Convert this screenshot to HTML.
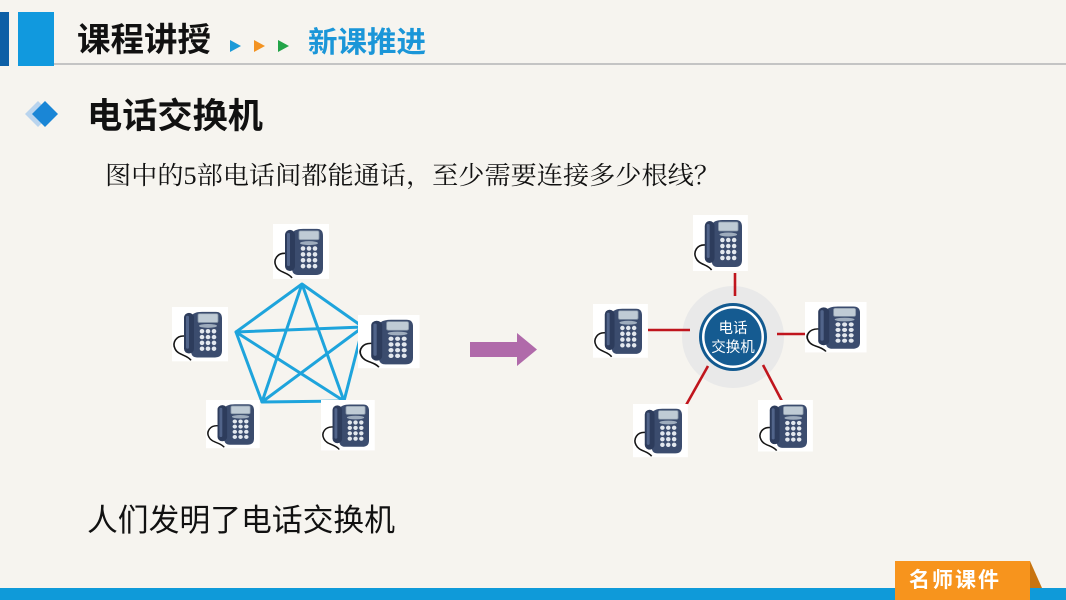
<!DOCTYPE html>
<html><head><meta charset="utf-8"><style>
html,body{margin:0;padding:0;}
body{width:1066px;height:600px;overflow:hidden;background:#f6f4ef;}
svg{display:block;}
.cjk{font-family:"Liberation Sans","Noto Sans CJK SC",sans-serif;}
</style></head><body>
<svg width="1066" height="600" viewBox="0 0 1066 600" xmlns="http://www.w3.org/2000/svg">
<defs>
<g id="ph">
<rect x="0" y="0" width="56" height="56" fill="#ffffff"/>
<path d="M13 30 C4 29,0 37,3 43 C6 50,15 49,19 55" fill="none" stroke="#151515" stroke-width="1.6"/>
<path d="M19 10 Q21 5 30 5 L44 5 Q50 5 50 12 L50 45 Q50 52 43 52 L25 52 Q19 52 19 45 Z" fill="#3b4c6e"/>
<rect x="12" y="6" width="10" height="42" rx="5" fill="#2d3c5c"/>
<rect x="14" y="9" width="3" height="34" rx="1.5" fill="#51648a"/>
<rect x="26" y="7" width="20" height="9" rx="1.5" fill="#bfcbd5" stroke="#8796a8" stroke-width="0.8"/>
<ellipse cx="36" cy="19.5" rx="9" ry="2" fill="#9eacbd"/>
<g fill="#e3e8ee">
<circle cx="30" cy="25" r="2.3"/><circle cx="36" cy="25" r="2.3"/><circle cx="42" cy="25" r="2.3"/>
<circle cx="30" cy="31" r="2.3"/><circle cx="36" cy="31" r="2.3"/><circle cx="42" cy="31" r="2.3"/>
<circle cx="30" cy="37" r="2.3"/><circle cx="36" cy="37" r="2.3"/><circle cx="42" cy="37" r="2.3"/>
<circle cx="30" cy="43" r="2.3"/><circle cx="36" cy="43" r="2.3"/><circle cx="42" cy="43" r="2.3"/>
</g>
</g>
</defs>

<!-- header -->
<rect x="0" y="12" width="9" height="54" fill="#0d5fa6"/>
<rect x="18" y="12" width="36" height="54" fill="#1199de"/>
<rect x="54" y="63" width="1012" height="2" fill="#c4c4c4"/>
<text x="77" y="51" class="cjk" font-size="33" font-weight="bold" fill="#111" textLength="134" lengthAdjust="spacingAndGlyphs">课程讲授</text>
<polygon points="230,40 241,46 230,52" fill="#1b9ad8"/>
<polygon points="254,40 265,46 254,52" fill="#f39322"/>
<polygon points="278,40 289,46 278,52" fill="#23a448"/>
<text x="308" y="52" class="cjk" font-size="29" font-weight="bold" fill="#1a96d8" textLength="118" lengthAdjust="spacingAndGlyphs">新课推进</text>

<!-- section title -->
<polygon points="38,101 51,114 38,127 25,114" fill="#b9d4ee"/>
<polygon points="45,101 58,114 45,127 32,114" fill="#1a86d6"/>
<text x="87" y="128" class="cjk" font-size="35" font-weight="bold" fill="#111" textLength="176" lengthAdjust="spacingAndGlyphs">电话交换机</text>

<text x="105" y="184" font-family="'Noto Serif CJK SC','Liberation Serif',serif" font-size="25" fill="#111" textLength="615" lengthAdjust="spacingAndGlyphs">图中的<tspan font-family="'Liberation Serif',serif">5</tspan>部电话间都能通话，至少需要连接多少根线？</text>

<!-- left pentagon -->
<g stroke="#1ea4dc" stroke-width="3" fill="none" stroke-linejoin="round">
<polygon points="302,284 363,327 344,401 262,402 236,332"/>
<polyline points="302,284 262,402 363,327 236,332 344,401 302,284"/>
</g>
<use href="#ph" transform="translate(273,224) scale(1.0,0.98)"/>
<use href="#ph" transform="translate(172,307) scale(1.0,0.97)"/>
<use href="#ph" transform="translate(358,315) scale(1.1,0.95)"/>
<use href="#ph" transform="translate(206,400) scale(0.96,0.86)"/>
<use href="#ph" transform="translate(321,400) scale(0.96,0.9)"/>

<!-- arrow -->
<polygon points="470,342 517,342 517,333 537,349.5 517,366 517,357 470,357" fill="#b06aaa"/>

<!-- right star -->
<circle cx="733" cy="337" r="51" fill="#e9e9e9"/>
<g stroke="#c0151d" stroke-width="2.6">
<line x1="735" y1="273" x2="735" y2="296"/>
<line x1="648" y1="330" x2="690" y2="330"/>
<line x1="777" y1="334" x2="806" y2="334"/>
<line x1="708" y1="366" x2="685" y2="407"/>
<line x1="763" y1="365" x2="784" y2="405"/>
</g>
<circle cx="733" cy="337" r="34" fill="#135a90"/>
<circle cx="733" cy="337" r="31" fill="#ffffff"/>
<circle cx="733" cy="337" r="28.5" fill="#155b91"/>
<text x="733" y="333" text-anchor="middle" class="cjk" font-size="14.5" fill="#fff">电话</text>
<text x="733" y="352" text-anchor="middle" class="cjk" font-size="14.5" fill="#fff">交换机</text>

<use href="#ph" transform="translate(693,215) scale(0.98,1.0)"/>
<use href="#ph" transform="translate(593,304) scale(0.98,0.96)"/>
<use href="#ph" transform="translate(805,302) scale(1.1,0.9)"/>
<use href="#ph" transform="translate(633,404) scale(0.98,0.95)"/>
<use href="#ph" transform="translate(758,400) scale(0.98,0.92)"/>

<text x="87" y="531" class="cjk" font-size="31" fill="#111" textLength="308" lengthAdjust="spacingAndGlyphs">人们发明了电话交换机</text>

<!-- footer -->
<rect x="0" y="588" width="1066" height="12" fill="#0f9ad9"/>
<polygon points="1030,561 1042,588 1030,588" fill="#c87410"/>
<rect x="895" y="561" width="135" height="39" fill="#f7941d"/>
<text x="909" y="587" class="cjk" font-size="21" font-weight="bold" fill="#fff" letter-spacing="2">名师课件</text>
</svg>
</body></html>
